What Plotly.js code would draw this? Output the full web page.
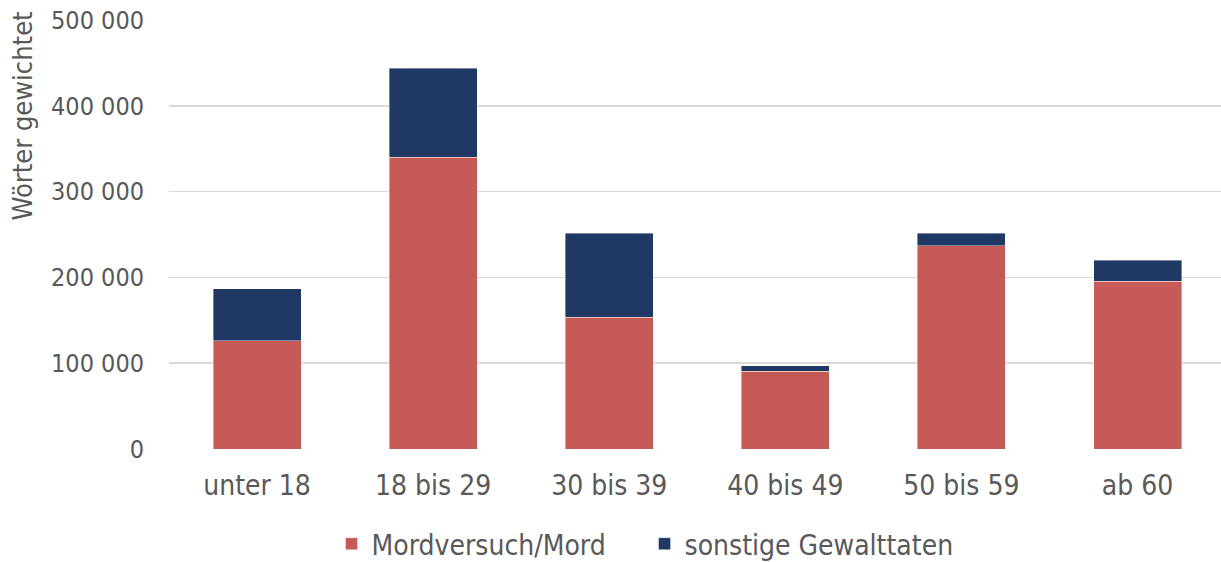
<!DOCTYPE html>
<html><head><meta charset="utf-8">
<script src="https://cdn.plot.ly/plotly-3.0.1.min.js"></script>
<style>html,body{margin:0;padding:0;background:#fff}#chart{width:1221px;height:562px}</style>
</head><body><div id="chart"></div>
<script>
const categories = ["unter 18", "18 bis 29", "30 bis 39", "40 bis 49", "50 bis 59", "ab 60"];
const mordValues = [126300, 340300, 153500, 90900, 237000, 195800];
const sonstigeValues = [60200, 103400, 98200, 6200, 14400, 24100];
const yTickVals = [0, 100000, 200000, 300000, 400000, 500000];
const yTickText = ["0", "100 000", "200 000", "300 000", "400 000", "500 000"];
const yTitle = "Wörter gewichtet";

const FONT = "'DejaVu Sans Condensed', 'Liberation Sans', sans-serif";
const GREY = "#595959";
const traces = [
  {type: "bar", name: "Mordversuch/Mord", x: categories, y: mordValues,
   marker: {color: "#C55A57", line: {color: "rgba(255,255,255,0.5)", width: 0.8}}, width: 0.5},
  {type: "bar", name: "sonstige Gewalttaten", x: categories, y: sonstigeValues,
   marker: {color: "#203864", line: {color: "rgba(255,255,255,0.5)", width: 0.8}}, width: 0.5}
];
const layout = {
  width: 1221, height: 562,
  barmode: "stack",
  margin: {l: 169, r: 0, t: 20, b: 113, autoexpand: false},
  paper_bgcolor: "#fff", plot_bgcolor: "#fff",
  font: {family: FONT, color: GREY, size: 25},
  showlegend: true,
  legend: {orientation: "h", x: 0.1545, xanchor: "left", y: -0.2214, yanchor: "middle",
           entrywidth: 268, entrywidthmode: "pixels",
           font: {family: FONT, size: 28, color: GREY}, traceorder: "normal"},
  xaxis: {type: "category", range: [-0.5, 5.474], showgrid: false, zeroline: false, automargin: false,
          showline: false, ticks: "", ticklabelstandoff: 17,
          tickfont: {family: FONT, size: 28, color: GREY}},
  yaxis: {range: [0, 500000], tickvals: yTickVals, ticktext: yTickText, automargin: false,
          showgrid: true, gridcolor: "#D9D9D9", gridwidth: 1.5, zeroline: false,
          showline: false, ticks: "", ticklabelstandoff: 24,
          tickfont: {family: FONT, size: 25, color: GREY}},
  annotations: [{text: yTitle, xref: "paper", yref: "paper", x: -0.1397, y: 0.775,
                 xanchor: "center", yanchor: "middle", textangle: -90, showarrow: false,
                 font: {family: FONT, size: 27, color: GREY}}]
};
Plotly.newPlot("chart", traces, layout, {displayModeBar: false, staticPlot: true});
</script></body></html>
